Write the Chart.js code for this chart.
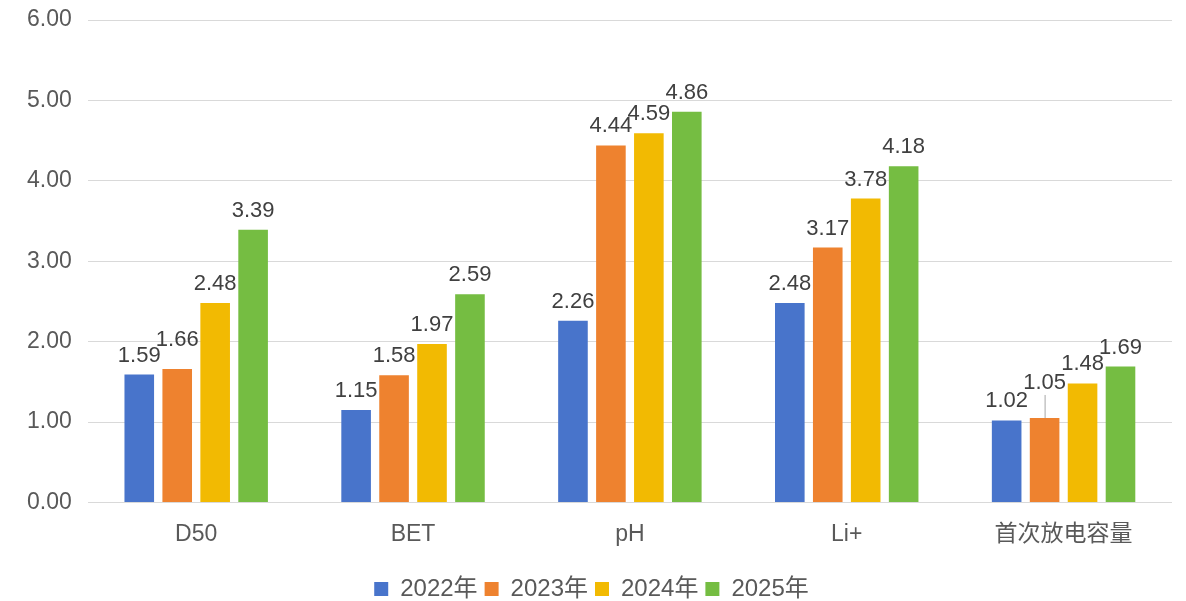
<!DOCTYPE html>
<html>
<head>
<meta charset="utf-8">
<style>
  html, body { margin: 0; padding: 0; background: #fff; }
  #wrap { width: 1186px; height: 601px; }
</style>
</head>
<body>
<div id="wrap"><canvas id="chart"></canvas></div>
<script src="https://cdn.jsdelivr.net/npm/chart.js"></script>
<script>
  var categories = ['D50', 'BET', 'pH', 'Li+', '首次放电容量'];
  var seriesNames = ['2022年', '2023年', '2024年', '2025年'];
  var values2022 = [1.59, 1.15, 2.26, 2.48, 1.02];
  var values2023 = [1.66, 1.58, 4.44, 3.17, 1.05];
  var values2024 = [2.48, 1.97, 4.59, 3.78, 1.48];
  var values2025 = [3.39, 2.59, 4.86, 4.18, 1.69];
  var yTicks = [0, 1, 2, 3, 4, 5, 6];

  var colors = ['#4874CB', '#EE822F', '#F2BA02', '#75BD42'];
  var fontFamily = "'Liberation Sans', Arial, 'Noto Sans CJK SC', sans-serif";
  var textColor = '#595959';

  // labels drawn above each bar; one label is lifted with a short leader line
  var barLabels = {
    id: 'barLabels',
    afterDatasetsDraw: function (chart, args, opts) {
      var ctx = chart.ctx;
      ctx.save();
      ctx.font = '22px ' + fontFamily;
      ctx.fillStyle = '#404040';
      ctx.textAlign = 'center';
      ctx.textBaseline = 'middle';
      chart.data.datasets.forEach(function (ds, di) {
        var meta = chart.getDatasetMeta(di);
        meta.data.forEach(function (bar, i) {
          var key = di + '-' + i;
          var lift = opts.lift[key] || 0;
          var y = bar.y - 19 - lift;
          if (lift > 10) {
            ctx.strokeStyle = '#a6a6a6';
            ctx.lineWidth = 1;
            ctx.beginPath();
            ctx.moveTo(bar.x + 0.5, bar.y);
            ctx.lineTo(bar.x + 0.5, y + 12);
            ctx.stroke();
          }
          ctx.fillText(ds.data[i].toFixed(2), bar.x, y);
        });
      });
      ctx.restore();
    }
  };

  var allSeries = [values2022, values2023, values2024, values2025];

  new Chart(document.getElementById('chart'), {
    type: 'bar',
    data: {
      labels: categories,
      datasets: allSeries.map(function (vals, i) {
        return {
          label: seriesNames[i],
          data: vals,
          backgroundColor: colors[i],
          borderWidth: 0,
          categoryPercentage: 0.70,
          barPercentage: 0.78
        };
      })
    },
    options: {
      responsive: true,
      maintainAspectRatio: false,
      animation: false,
      layout: { autoPadding: false, padding: { top: 20, right: 14, left: 11, bottom: -10 } },
      scales: {
        x: {
          grid: { display: false },
          border: { display: false },
          ticks: { color: textColor, font: { family: fontFamily, size: 23 }, padding: 10 },
          afterFit: function (axis) { axis.height += 12; }
        },
        y: {
          min: yTicks[0],
          max: yTicks[yTicks.length - 1],
          afterBuildTicks: function (axis) {
            axis.ticks = yTicks.map(function (v) { return { value: v }; });
          },
          afterFit: function (axis) { axis.paddingTop = 0; axis.paddingBottom = 0; },
          grid: { color: '#d9d9d9', lineWidth: 1, drawTicks: false },
          border: { display: false },
          ticks: {
            color: textColor,
            font: { family: fontFamily, size: 23 },
            padding: 16,
            callback: function (v) { return Number(v).toFixed(2); }
          }
        }
      },
      plugins: {
        legend: {
          position: 'bottom',
          labels: {
            color: textColor,
            font: { family: fontFamily, size: 24 },
            boxWidth: 14,
            boxHeight: 14,
            padding: 7
          }
        },
        tooltip: { enabled: false },
        barLabels: { lift: { '1-0': 10, '1-4': 16 } }
      }
    },
    plugins: [barLabels]
  });
</script>
</body>
</html>
